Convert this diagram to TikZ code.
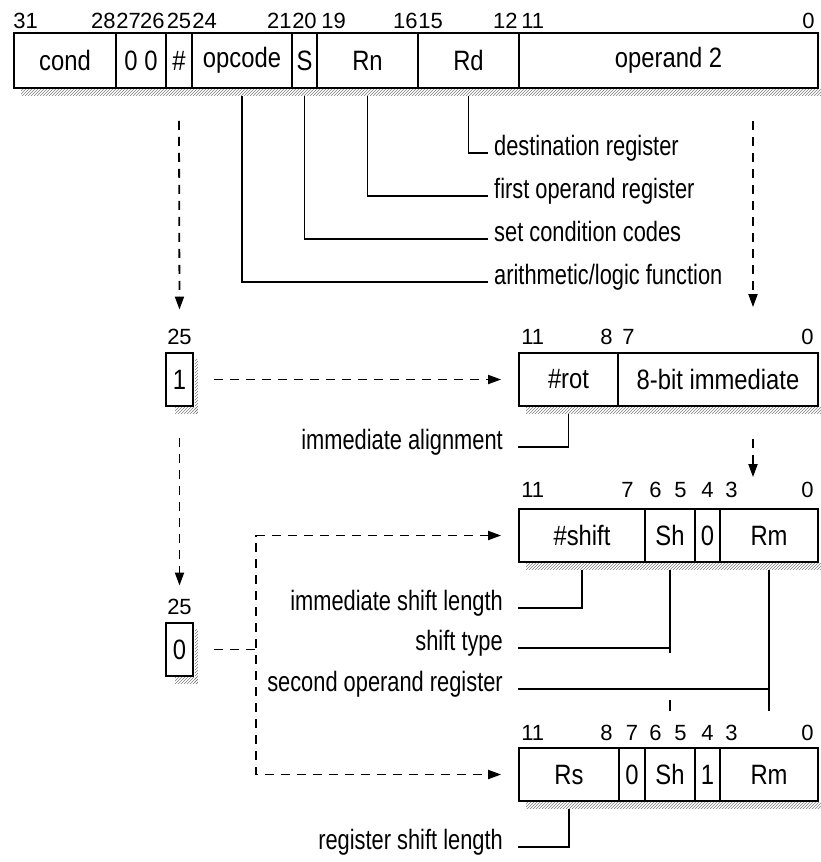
\documentclass[tikz,border=0pt]{standalone}
\usepackage{fontspec}
\setmainfont{Liberation Sans}
\newfontfamily\fieldfont[FakeStretch=0.85]{Liberation Sans}
\newfontfamily\notefont[FakeStretch=0.78]{Liberation Sans}
\usetikzlibrary{arrows.meta,patterns}

\begin{document}
\begin{tikzpicture}[x=1pt, y=-1pt,
    >={Triangle[length=13pt,width=9pt]},
    field/.style={draw, line width=1.8pt, inner sep=0pt, minimum height=53pt, font=\fieldfont\fontsize{28}{30}\selectfont},
    bitno/.style={inner sep=0pt, font=\fontsize{22}{24}\selectfont},
    note/.style={inner sep=0pt, font=\notefont\fontsize{28}{30}\selectfont},
    lead/.style={line width=1.6pt},
    dline/.style={line width=1.8pt, dash pattern=on 9pt off 7pt},
    shade/.style={pattern=north east lines, pattern color=gray},
]
\useasboundingbox (0,0) rectangle (821,862);

% instruction word
\node[field, minimum height=55pt, minimum width=102pt] (cond) at (65,60.5) {cond};
\node[field, minimum height=55pt, minimum width=50pt] (zz) at (141,60.5) {0 0};
\node[field, minimum height=55pt, minimum width=26pt] (hash) at (179,60.5) {\#};
\node[field, minimum height=55pt, minimum width=100pt] (opcode) at (242,60.5) {opcode};
\node[field, minimum height=55pt, minimum width=25pt] (sbit) at (304.5,60.5) {S};
\node[field, minimum height=55pt, minimum width=101pt] (rn) at (367.5,60.5) {Rn};
\node[field, minimum height=55pt, minimum width=101pt] (rd) at (468.5,60.5) {Rd};
\node[field, minimum height=55pt, minimum width=299pt] (optwo) at (668.5,60.5) {operand 2};
\fill[shade] ([xshift=8pt,yshift=-0.9pt]cond.south west) rectangle ([xshift=3pt,yshift=-7pt]optwo.south east);

\node[bitno, anchor=base west] (t31) at ([yshift=4pt]cond.north west) {31};
\node[bitno, anchor=base east] (t28) at ([xshift=-1pt,yshift=4pt]cond.north east) {28};
\node[bitno, anchor=base west] (t27) at ([xshift=1pt,yshift=4pt]zz.north west) {27};
\node[bitno, anchor=base east] (t26) at ([xshift=-2pt,yshift=4pt]zz.north east) {26};
\node[bitno, anchor=base] (t25) at ([yshift=4pt]hash.north) {25};
\node[bitno, anchor=base west] (t24) at ([xshift=1pt,yshift=4pt]opcode.north west) {24};
\node[bitno, anchor=base east] (t21) at ([xshift=-1pt,yshift=4pt]opcode.north east) {21};
\node[bitno, anchor=base] (t20) at ([yshift=4pt]sbit.north) {20};
\node[bitno, anchor=base west] (t19) at ([xshift=5pt,yshift=4pt]rn.north west) {19};
\node[bitno, anchor=base east] (t16) at ([xshift=-1pt,yshift=4pt]rn.north east) {16};
\node[bitno, anchor=base west] (t15) at ([xshift=1pt,yshift=4pt]rd.north west) {15};
\node[bitno, anchor=base east] (t12) at ([xshift=-2pt,yshift=4pt]rd.north east) {12};
\node[bitno, anchor=base west] (t11) at ([xshift=3pt,yshift=4pt]optwo.north west) {11};
\node[bitno, anchor=base east] (t0) at ([xshift=-4pt,yshift=4pt]optwo.north east) {0};

% field notes
\node[note, anchor=mid west] (dst) at (494,153) {destination register};
\node[note, anchor=mid west] (frst) at (494,196) {first operand register};
\node[note, anchor=mid west] (setc) at (494,239) {set condition codes};
\node[note, anchor=mid west] (alu) at (494,282) {arithmetic/logic function};
\draw[lead] ([yshift=-7pt]rd.south) |- ([xshift=-6pt]dst.mid west);
\draw[lead] ([yshift=-7pt]rn.south) |- ([xshift=-6pt]frst.mid west);
\draw[lead] ([yshift=-7pt]sbit.south) |- ([xshift=-6pt]setc.mid west);
\draw[lead] ([yshift=-7pt]opcode.south) |- ([xshift=-6pt]alu.mid west);

% immediate operand
\node[field, minimum width=27pt] (one) at (179.5,379.5) {1};
\fill[shade] ([xshift=0.9pt,yshift=-7pt]one.north east) rectangle ([xshift=4pt,yshift=-7pt]one.south east);
\fill[shade] ([xshift=10pt,yshift=-0.9pt]one.south west) rectangle ([xshift=4pt,yshift=-7pt]one.south east);
\node[bitno, anchor=base] (p25) at ([yshift=8pt]one.north) {25};

\node[field, minimum width=99pt] (rot) at (568.5,379.5) {\#rot};
\node[field, minimum width=200pt] (imm) at (718,379.5) {8-bit immediate};
\fill[shade] ([xshift=8pt,yshift=-0.9pt]rot.south west) rectangle ([xshift=3pt,yshift=-7pt]imm.south east);
\node[bitno, anchor=base west] (a11) at ([xshift=3pt,yshift=8pt]rot.north west) {11};
\node[bitno, anchor=base east] (a8) at ([xshift=-6pt,yshift=8pt]rot.north east) {8};
\node[bitno, anchor=base west] (a7) at ([xshift=5pt,yshift=8pt]imm.north west) {7};
\node[bitno, anchor=base east] (a0) at ([xshift=-5pt,yshift=8pt]imm.north east) {0};

\node[note, anchor=mid east] (ialign) at (503,447) {immediate alignment};
\draw[lead] ([yshift=-7pt]rot.south) |- ([xshift=15pt]ialign.mid east);

% register operand, immediate shift
\node[field, minimum width=27pt] (zero) at (179.5,649.5) {0};
\fill[shade] ([xshift=0.9pt,yshift=-7pt]zero.north east) rectangle ([xshift=4pt,yshift=-7pt]zero.south east);
\fill[shade] ([xshift=10pt,yshift=-0.9pt]zero.south west) rectangle ([xshift=4pt,yshift=-7pt]zero.south east);
\node[bitno, anchor=base] (q25) at ([yshift=8pt]zero.north) {25};

\node[field, minimum width=126pt] (shamt) at (582,535.5) {\#shift};
\node[field, minimum width=50pt] (shtyp) at (670,535.5) {Sh};
\node[field, minimum width=25pt] (zbit) at (707.5,535.5) {0};
\node[field, minimum width=98pt] (rm) at (769,535.5) {Rm};
\fill[shade] ([xshift=8pt,yshift=-0.9pt]shamt.south west) rectangle ([xshift=3pt,yshift=-7pt]rm.south east);
\node[bitno, anchor=base west] (b11) at ([xshift=3pt,yshift=11pt]shamt.north west) {11};
\node[bitno, anchor=base east] (b7) at ([xshift=-12pt,yshift=11pt]shamt.north east) {7};
\node[bitno, anchor=base west] (b6) at ([xshift=5pt,yshift=11pt]shtyp.north west) {6};
\node[bitno, anchor=base east] (b5) at ([xshift=-9pt,yshift=11pt]shtyp.north east) {5};
\node[bitno, anchor=base] (b4) at ([yshift=11pt]zbit.north) {4};
\node[bitno, anchor=base west] (b3) at ([xshift=6pt,yshift=11pt]rm.north west) {3};
\node[bitno, anchor=base east] (b0) at ([xshift=-5pt,yshift=11pt]rm.north east) {0};

% register operand, register shift
\node[field, minimum width=100pt] (rs) at (569,774.5) {Rs};
\node[field, minimum width=26pt] (zb) at (632,774.5) {0};
\node[field, minimum width=50pt] (sh) at (670,774.5) {Sh};
\node[field, minimum width=25pt] (ob) at (707.5,774.5) {1};
\node[field, minimum width=98pt] (rmb) at (769,774.5) {Rm};
\fill[shade] ([xshift=8pt,yshift=-0.9pt]rs.south west) rectangle ([xshift=3pt,yshift=-7pt]rmb.south east);
\node[bitno, anchor=base west] (c11) at ([xshift=3pt,yshift=7pt]rs.north west) {11};
\node[bitno, anchor=base east] (c8) at ([xshift=-7pt,yshift=7pt]rs.north east) {8};
\node[bitno, anchor=base] (c7) at ([yshift=7pt]zb.north) {7};
\node[bitno, anchor=base west] (c6) at ([xshift=5pt,yshift=7pt]sh.north west) {6};
\node[bitno, anchor=base east] (c5) at ([xshift=-9pt,yshift=7pt]sh.north east) {5};
\node[bitno, anchor=base] (c4) at ([yshift=7pt]ob.north) {4};
\node[bitno, anchor=base west] (c3) at ([xshift=6pt,yshift=7pt]rmb.north west) {3};
\node[bitno, anchor=base east] (c0) at ([xshift=-5pt,yshift=7pt]rmb.north east) {0};

% shift notes
\node[note, anchor=mid east] (ishift) at (503,608) {immediate shift length};
\node[note, anchor=mid east] (stype) at (503,648) {shift type};
\node[note, anchor=mid east] (sopreg) at (503,689) {second operand register};
\node[note, anchor=mid east] (rshift) at (503,847) {register shift length};
\draw[lead] ([yshift=-7pt]shamt.south) |- ([xshift=15pt]ishift.mid east);
\draw[lead] ([yshift=-7pt]shtyp.south) -- ([yshift=-90pt]shtyp.south);
\draw[lead] ([xshift=15pt]stype.mid east) -- (stype.mid east -| shtyp.south);
\draw[lead] ([yshift=47pt]sh.north) -- ([yshift=36pt]sh.north);
\draw[lead] ([yshift=-7pt]rm.south) -- ([yshift=36pt]rmb.north);
\draw[lead] ([xshift=15pt]sopreg.mid east) -- (sopreg.mid east -| rm.south);
\draw[lead] ([yshift=-7pt]rs.south) |- ([xshift=15pt]rshift.mid east);

% operand 2 selection
\draw[dline,->] ([yshift=-32pt]hash.south) -- ([yshift=19pt]p25.north);
\draw[dline,->] ([xshift=84.5pt,yshift=-32pt]optwo.south) -- ([xshift=35pt,yshift=45pt]imm.north);
\draw[dline,->] ([xshift=20pt]one.east) -- ([xshift=-17pt]rot.west);
\draw[dline,->] ([yshift=-31pt]one.south) -- ([yshift=13pt]q25.north);
\draw[dline,->] ([xshift=35pt,yshift=-32pt]imm.south) -- ([xshift=-16pt,yshift=31pt]rm.north);
\draw[dline] ([xshift=20pt]zero.east) -- ([xshift=64pt]zero.east);
\draw[dline,<->] ([xshift=-17pt]shamt.west) -| ([xshift=-262pt]rs.west) -- ([xshift=-17pt]rs.west);
\end{tikzpicture}
\end{document}
